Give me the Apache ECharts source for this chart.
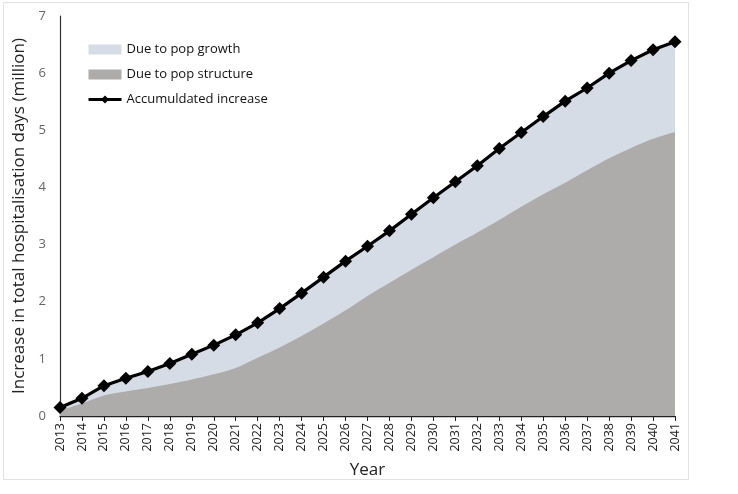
<!DOCTYPE html>
<html>
<head>
<meta charset="utf-8">
<script src="https://cdn.jsdelivr.net/npm/echarts@6/dist/echarts.min.js"></script>
<style>
html,body{margin:0;padding:0;background:#fff;}
#frame{position:absolute;left:3px;top:2px;width:686px;height:478px;border:1px solid #e2e2e2;box-sizing:border-box;}
#chart{position:absolute;left:0;top:0;width:738px;height:494px;}
</style>
</head>
<body>
<div id="frame"></div>
<div id="chart"></div>
<script>
const years = ['2013','2014','2015','2016','2017','2018','2019','2020','2021','2022','2023','2024','2025','2026','2027','2028','2029','2030','2031','2032','2033','2034','2035','2036','2037','2038','2039','2040','2041'];
const accumulatedIncrease = [0.15,0.31,0.53,0.66,0.78,0.92,1.08,1.24,1.42,1.63,1.88,2.15,2.43,2.71,2.97,3.24,3.53,3.82,4.10,4.38,4.68,4.96,5.24,5.51,5.74,6.00,6.22,6.41,6.55];
const dueToStructure = [0.10,0.22,0.36,0.43,0.49,0.56,0.64,0.73,0.84,1.02,1.20,1.40,1.62,1.85,2.10,2.33,2.56,2.78,3.00,3.21,3.43,3.66,3.88,4.08,4.30,4.51,4.69,4.85,4.97];
const yTicks = [0,1,2,3,4,5,6,7];

const FONT = 'Open Sans';
const chart = echarts.init(document.getElementById('chart'), null, {renderer:'canvas'});
chart.setOption({
  animation:false,
  textStyle:{fontFamily:FONT},
  grid:{left:60,right:63,top:16,bottom:78},
  legend:{
    orient:'vertical', left:82, top:38, itemGap:12, itemWidth:33, itemHeight:10,
    textStyle:{fontFamily:FONT,fontSize:13,color:'#111'},
    data:[
      {name:'Due to pop growth', icon:'rect'},
      {name:'Due to pop structure', icon:'rect'},
      {name:'Accumuldated increase', itemStyle:{color:'#000'}, lineStyle:{color:'#000',width:3}}
    ]
  },
  xAxis:{
    type:'category', data:years, boundaryGap:false,
    name:'Year', nameLocation:'middle', nameGap:46,
    nameTextStyle:{fontFamily:FONT,fontSize:17,color:'#222'},
    axisLine:{lineStyle:{color:'#222',width:1.3}},
    axisTick:{show:true,alignWithLabel:true,length:5,lineStyle:{color:'#222'}},
    axisLabel:{rotate:90,fontFamily:FONT,fontSize:12.5,color:'#222',margin:7,interval:0},
    splitLine:{show:false}
  },
  yAxis:{
    type:'value', min:yTicks[0], max:yTicks[yTicks.length-1], interval:1,
    name:'Increase in total hospitalisation days (million)', nameLocation:'middle', nameGap:32,
    nameTextStyle:{fontFamily:FONT,fontSize:17,color:'#222'},
    axisLine:{show:true,lineStyle:{color:'#333',width:1.2}},
    axisTick:{show:false},
    axisLabel:{fontFamily:FONT,fontSize:13,color:'#666',margin:14},
    splitLine:{show:false}
  },
  series:[
    {
      name:'Due to pop growth', type:'line', data:accumulatedIncrease,
      symbol:'none', lineStyle:{width:0}, itemStyle:{color:'#D6DCE5'},
      areaStyle:{color:'#D6DCE5',opacity:1}, z:1
    },
    {
      name:'Due to pop structure', type:'line', data:dueToStructure, smooth:0.3,
      symbol:'none', lineStyle:{width:0}, itemStyle:{color:'#AEABAB'},
      areaStyle:{color:'#AEABAB',opacity:1}, z:2
    },
    {
      name:'Accumuldated increase', type:'line', data:accumulatedIncrease,
      symbol:'diamond', symbolSize:13, showAllSymbol:true,
      lineStyle:{color:'#000',width:3.2}, itemStyle:{color:'#000'}, z:3
    }
  ]
});
</script>
</body>
</html>
